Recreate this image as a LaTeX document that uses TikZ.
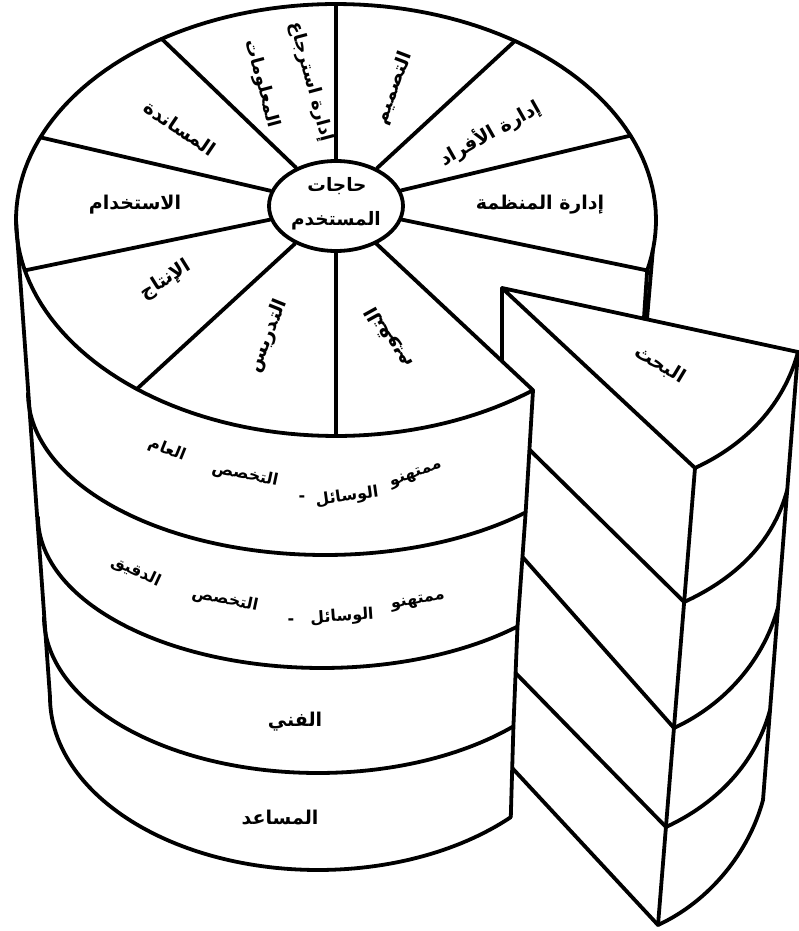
\documentclass[tikz,border=0pt]{standalone}
\usepackage{fontspec}
\newfontfamily\arabicfont[Script=Arabic]{DejaVu Sans}
\TeXXeTstate=1
\usetikzlibrary{calc,shapes.geometric}
\newcommand{\artxt}[1]{\beginR #1\endR}
\begin{document}
\begin{tikzpicture}[x=1pt,y=-1pt,line join=round,line cap=round,
  edge/.style={line width=3.8pt},
  lab/.style={font=\arabicfont\bfseries\fontsize{19}{22}\selectfont,inner sep=0pt},
  slab/.style={font=\arabicfont\bfseries\fontsize{18}{21}\selectfont,inner sep=0pt},
  hlab/.style={font=\arabicfont\bfseries\fontsize{18.5}{22}\selectfont,inner sep=0pt},
  blab/.style={font=\arabicfont\bfseries\fontsize{16}{19}\selectfont,inner sep=0pt},
  hubshape/.style={ellipse,draw,line width=3.8pt,fill=white,minimum width=134pt,minimum height=90pt,inner sep=0pt}]
\fill[white] (0,0) rectangle (799,931);
\useasboundingbox (0,0) rectangle (799,931);
% ---- coordinates of the cylinder
\coordinate (H) at (336,206);
\foreach \n/\t in {1/270,2/304,3/337,4/373.5,5/52,6/90,7/128.5,8/166.5,9/202.5,10/237}
  \coordinate (s\n) at ({336+320*cos(\t)},{220+216*sin(\t)});
\coordinate (L0) at (16,220);
\coordinate (L4) at (50,697);
\coordinate (c1) at ({325+297*cos(47.5)},{393+162*sin(47.5)});
\coordinate (c2) at ({322+284*cos(46.5)},{517+151*sin(46.5)});
\coordinate (c3) at ({318+274*cos(44.5)},{617+156*sin(44.5)});
\coordinate (cB) at ({318+268*cos(44)},{697+173*sin(44)});
\coordinate (rt) at ({336+320*cos(8)},{220+216*sin(8)});
\coordinate (rtb) at ($(rt)+(-6,70)$);
\coordinate (s4b) at ($(s4)+(-4,60)$);
% ---- coordinates of the wedge
\coordinate (A) at (502,288);
\coordinate (Ad) at (502,420);
\coordinate (R) at (798,352);
\coordinate (F0) at (695,468);
\coordinate (F1) at (684.2,602);
\coordinate (F2) at (674,728);
\coordinate (F3) at (666,827);
\coordinate (FB) at (658,925);
\coordinate (R1) at (787.2,490);
\coordinate (R2) at (778.1,607);
\coordinate (R3) at (770,710);
\coordinate (RB) at (763,800);
\coordinate (d1) at ($(s5)!0.486!(c1)$);
\coordinate (d2) at ($(c1)!0.39!(c2)$);
\coordinate (d3) at ($(c2)!0.466!(c3)$);
\coordinate (d4) at ($(c3)!0.459!(cB)$);
% ---- hub and spokes
\node[hubshape] (hub) at (H) {};
\foreach \n in {1,...,10} \draw[edge] (hub) -- (s\n);
% ---- top face rim
\draw[edge] plot[domain=52:373.5,samples=160] ({336+320*cos(\x)},{220+216*sin(\x)});
% ---- cylinder body
\draw[edge] (L0) -- (L4);
\draw[edge] plot[domain=47.5:180,samples=90] ({325+297*cos(\x)},{393+162*sin(\x)});
\draw[edge] plot[domain=46.5:180,samples=90] ({322+284*cos(\x)},{517+151*sin(\x)});
\draw[edge] plot[domain=44.5:180,samples=90] ({318+274*cos(\x)},{617+156*sin(\x)});
\draw[edge] plot[domain=44:180,samples=90] ({318+268*cos(\x)},{697+173*sin(\x)});
\draw[edge] (s5) -- (c1) -- (c2) -- (c3) -- (cB);
\draw[edge] (rt) -- (intersection of rt--rtb and A--R);
\draw[edge] (s4) -- (intersection of s4--s4b and A--R);
% ---- wedge
\draw[edge] (F0) -- (A) -- (R) .. controls +(-14,52) and +(52,-24) .. (F0);
\draw[edge] (A) -- (intersection of A--Ad and H--s5);
\draw[edge] (R) -- (RB) .. controls +(-14,52) and +(52,-24) .. (FB) -- (F0);
\draw[edge] (R1) .. controls +(-14,52) and +(52,-24) .. (F1);
\draw[edge] (R2) .. controls +(-14,52) and +(52,-24) .. (F2);
\draw[edge] (R3) .. controls +(-14,52) and +(52,-24) .. (F3);
\draw[edge] (d1) -- (F1);
\draw[edge] (d2) -- (F2);
\draw[edge] (d3) -- (F3);
\draw[edge] (d4) -- (FB);
% ---- labels on the top face
\node[hlab] (hub1) at (337,186) {\artxt{حاجات}};
\node[hlab] (hub2) at (336,221) {\artxt{المستخدم}};
\node[lab,rotate=69] (tdesign) at (394,88) {\artxt{التصميم}};
\node[lab,rotate=29.5] (tpers) at (490,133) {\artxt{إدارة الأفراد}};
\node[lab] (torg) at (540,205) {\artxt{إدارة المنظمة}};
\node[lab,rotate=-31] (tresearch) at (660,365) {\artxt{البحث}};
\node[lab,rotate=119] (teval) at (388,338) {\artxt{التقويم}};
\node[lab,rotate=68] (tteach) at (268,336) {\artxt{التدريس}};
\node[lab,rotate=32] (tprod) at (166,280) {\artxt{الإنتاج}};
\node[lab] (tuse) at (135,205) {\artxt{الاستخدام}};
\node[lab,rotate=-34] (tsupp) at (180,128) {\artxt{المساندة}};
\node[slab,rotate=-75] (tret1) at (311,82) {\artxt{إدارة استرجاع}};
\node[slab,rotate=-75] (tret2) at (262,84) {\artxt{المعلومات}};
% ---- labels on the bands
\node[blab,rotate=20] (b1a) at (416,475) {\artxt{ممتهنو}};
\node[blab,rotate=8] (b1b) at (347,497) {\artxt{الوسائل}};
\node[blab] (b1c) at (302,499) {-};
\node[blab,rotate=-12] (b1d) at (245,475) {\artxt{التخصص}};
\node[blab,rotate=-22] (b1e) at (167,450) {\artxt{العام}};
\node[blab,rotate=10] (b2a) at (418,602) {\artxt{ممتهنو}};
\node[blab,rotate=4] (b2b) at (342,617) {\artxt{الوسائل}};
\node[blab] (b2c) at (291,622) {-};
\node[blab,rotate=-12] (b2d) at (225,600) {\artxt{التخصص}};
\node[blab,rotate=-25] (b2e) at (136,572) {\artxt{الدقيق}};
\node[lab] (b3) at (295,722) {\artxt{الفني}};
\node[lab] (b4) at (280,818) {\artxt{المساعد}};
\end{tikzpicture}
\end{document}
